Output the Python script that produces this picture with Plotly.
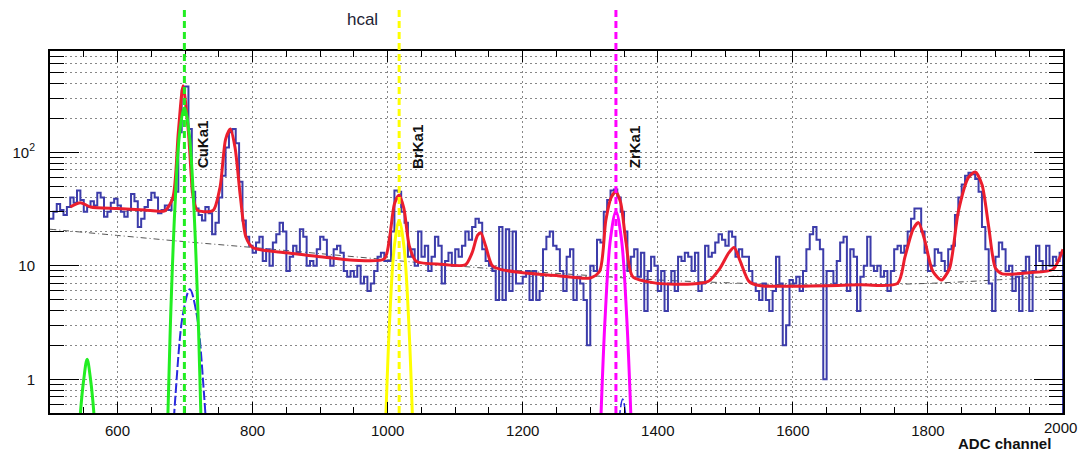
import math
import plotly.graph_objects as go

# ---------------- data ----------------
# histogram: ADC channels 500..2000 in bins of 5 channels
bin_start = 500
bin_width = 5
counts = [
    26, 30, 35, 31, 28, 33, 40, 36, 46, 38, 30, 33, 37, 34, 44, 40, 27, 30, 36, 39,            # 500-595
    34, 30, 27, 31, 43, 37, 22, 26, 33, 38, 44, 40, 29, 31, 34, 31, 38, 45, 150, 350,          # 600-695
    380, 160, 45, 32, 28, 25, 33, 29, 19, 24, 40, 62, 110, 150, 160, 120, 55, 25, 18, 15,      # 700-795
    13, 16, 18, 11, 14, 10, 16, 19, 24, 20, 9, 12, 15, 13, 21, 18, 10, 11, 10, 14,             # 800-895
    18, 17, 12, 10, 14, 15, 13, 9, 8, 9, 8, 10, 7, 8, 6, 7, 9, 12, 13, 11,                     # 900-995
    11, 20, 46, 45, 30, 24, 12, 14, 10, 20, 12, 15, 9, 12, 18, 15, 7, 11, 13, 10,              # 1000-1095
    14, 12, 15, 20, 17, 22, 26, 24, 14, 11, 10, 9, 5, 22, 5, 21, 6, 20, 7, 7,                  # 1100-1195
    8, 9, 5, 9, 5, 6, 14, 18, 20, 15, 14, 9, 6, 12, 14, 5, 8, 7, 5, 2,                         # 1200-1295
    10, 9, 17, 16, 30, 38, 46, 47, 40, 30, 20, 9, 12, 14, 8, 13, 4, 9, 12, 10,                 # 1300-1395
    6, 9, 4, 7, 9, 6, 12, 11, 13, 12, 9, 13, 6, 7, 15, 12, 13, 16, 19, 17,                     # 1400-1495
    15, 20, 18, 12, 14, 12, 12, 9, 7, 6, 5, 7, 5, 4, 6, 12, 7, 2, 3, 7.5,                      # 1500-1595
    7, 8, 6, 9, 14, 19, 22, 17, 14, 1.0, 9, 9, 7, 11, 16, 18, 6, 14, 12, 4,                    # 1600-1695
    8, 10, 18, 10, 9, 10, 8, 9, 6, 9, 14, 15, 13, 15, 20, 26, 32, 32, 20, 13,                  # 1700-1795
    9, 10, 14, 13, 11, 9, 14, 15, 28, 40, 52, 62, 66, 64, 58, 45, 22, 14, 7, 4,                # 1800-1895
    12, 16, 14, 9, 10, 6, 8, 4, 9, 12, 4, 9, 15, 11, 9, 15, 10, 12, 11, 13,                    # 1900-1995
]
hist_floor = 0.1

# total fit function
fit_ch = [530, 545, 560, 600, 640, 670, 682, 690, 697, 705, 712, 718, 728, 742,
          752, 760, 767, 774, 782, 790, 800, 850, 900, 950, 995, 1003, 1010, 1017,
          1024, 1032, 1042, 1080, 1115, 1125, 1133, 1138, 1145, 1155, 1170, 1200,
          1250, 1300, 1314, 1323, 1331, 1338, 1345, 1353, 1363, 1400, 1450, 1475,
          1492, 1505, 1513, 1522, 1535, 1550, 1600, 1700, 1755, 1766, 1778, 1786,
          1795, 1807, 1820, 1832, 1845, 1860, 1870, 1880, 1890, 1900, 1910, 1950,
          1985, 2000]
fit_val = [33, 36, 33, 32, 31, 30.5, 40, 150, 385, 150, 40, 31, 30, 31,
           50, 130, 160, 110, 40, 18, 14.5, 13, 12, 11.2, 11.5, 18, 35, 42,
           32, 15, 11, 10.3, 10.2, 13, 18.5, 19.5, 15, 10, 9.2, 8.7,
           8.2, 7.8, 9, 25, 40, 45, 36, 16, 8, 7, 6.9, 7.3,
           9.5, 13, 14.5, 11, 7.3, 6.7, 6.6, 6.8, 7, 12, 21, 24,
           17, 9, 7.5, 9.5, 30, 60, 67, 52, 22, 9.5, 8.5, 8.7,
           9.3, 14]

# background component
bkg_ch = [500, 600, 700, 800, 900, 1000, 1100, 1200, 1300, 1400, 1500, 1600,
          1700, 1800, 1900, 2000]
bkg_val = [21, 18.5, 16.3, 14.5, 12.8, 11.3, 10, 9, 8.2, 7.5, 7.1, 6.8,
           6.8, 7.0, 7.5, 8.2]

# peak components (channel, value)
cu_ch = [671, 678, 685, 692, 699, 706, 713, 720, 727]
cu_val = [0.08, 2.7, 33, 148, 245, 148, 33, 2.7, 0.08]
cu_low_ch = [540, 545, 550, 555, 560, 565, 570]
cu_low_val = [0.16, 0.5, 1.0, 1.5, 1.0, 0.5, 0.16]
cu_tail_ch = [678, 686, 697, 707, 717, 728, 736]
cu_tail_val = [0.12, 0.75, 3.8, 6.2, 3.8, 0.75, 0.12]
br_ch = [996, 1003, 1010, 1017, 1024, 1031, 1038]
br_val = [0.27, 3.4, 15, 25, 15, 3.4, 0.27]
zr_ch = [1314, 1322, 1330, 1338, 1346, 1354, 1362]
zr_val = [0.23, 3.5, 17.5, 30, 17.5, 3.5, 0.23]
zr_tail_ch = [1336, 1342, 1348, 1354, 1360]
zr_tail_val = [0.09, 0.4, 0.67, 0.4, 0.09]

# line energies
line_names = ["CuKa1", "BrKa1", "ZrKa1"]
line_ch = [699, 1017, 1338]
line_colors = ["#22ee22", "#ffff00", "#ff00ff"]
label_ch = [726, 1044, 1365]
label_val = [69, 69, 69]

x_tickvals = [600, 800, 1000, 1200, 1400, 1600, 1800]
x_last_tick = 2000
y_tickvals = [1, 10, 100]
y_ticktext = ["1", "10", "10<sup>2</sup>"]
y_minor = [0.5, 0.6, 0.7, 0.8, 0.9, 2, 3, 4, 5, 6, 7, 8, 9,
           20, 30, 40, 50, 60, 70, 80, 90, 200, 300, 400, 500, 600, 700]

# ---------------- figure ----------------
FONT = "Liberation Sans, Arial, Helvetica, sans-serif"

hx = [bin_start + i * bin_width for i in range(len(counts) + 1)]
hy = counts + [counts[-1]]
hx = hx + [hx[-1]]
hy = hy + [hist_floor]

fig = go.Figure()

fig.add_trace(go.Scatter(x=bkg_ch, y=bkg_val, mode="lines",
                         line=dict(color="#555555", width=1, dash="6px,3px,1px,3px", shape="spline")))
fig.add_trace(go.Scatter(x=hx, y=hy, mode="lines",
                         line=dict(color="rgb(60,60,170)", width=2, shape="hv")))
fig.add_trace(go.Scatter(x=fit_ch, y=fit_val, mode="lines",
                         line=dict(color="rgb(235,30,45)", width=3, shape="spline", smoothing=0.7)))

for cx, cy, col, dash, w in [
    (cu_tail_ch, cu_tail_val, "#2a2ae0", "10px,3px", 2),
    (zr_tail_ch, zr_tail_val, "#2a2ae0", "10px,3px", 1.5),
    (cu_ch, cu_val, line_colors[0], "solid", 3),
    (cu_low_ch, cu_low_val, line_colors[0], "solid", 3),
    (br_ch, br_val, line_colors[1], "solid", 3),
    (zr_ch, zr_val, line_colors[2], "solid", 3),
]:
    fig.add_trace(go.Scatter(x=cx, y=cy, mode="lines",
                             line=dict(color=col, width=w, dash=dash, shape="spline", smoothing=1)))

# vertical markers at the line energies
for ch, col in zip(line_ch, line_colors):
    fig.add_shape(type="line", xref="x", yref="paper", x0=ch, x1=ch, y0=0, y1=1.113,
                  line=dict(color=col, width=3, dash="7px,4px"), layer="above")

for name, ch, v in zip(line_names, label_ch, label_val):
    fig.add_annotation(x=ch, y=math.log10(v), text="<b>" + name + "</b>", textangle=-90,
                       showarrow=False, xanchor="center", yanchor="bottom",
                       font=dict(family=FONT, size=15, color="#111111"))

# last x tick label, kept inside the page edge
fig.add_annotation(x=x_last_tick, yref="paper", y=0, yshift=-4, xshift=-3,
                   text=str(x_last_tick), showarrow=False, xanchor="center", yanchor="top",
                   font=dict(family=FONT, size=15, color="#111111"))

fig.add_annotation(xref="paper", yref="paper", x=0.99, y=-0.083, text="<b>ADC channel</b>",
                   showarrow=False, xanchor="right", yanchor="middle",
                   font=dict(family=FONT, size=15, color="#111111"))

fig.update_layout(
    width=1079, height=453,
    margin=dict(l=48, r=16, t=51, b=40),
    paper_bgcolor="white", plot_bgcolor="white",
    showlegend=False,
    title=dict(text="hcal", xref="container", yref="container", x=0.336, y=0.957,
               xanchor="center", yanchor="middle",
               font=dict(family=FONT, size=17, color="#222233")),
    font=dict(family=FONT, size=15, color="#111111"),
)

fig.update_xaxes(
    range=[500, 2000], tickvals=x_tickvals, ticks="inside",
    ticklen=11, tickwidth=1,
    tickcolor="black", showline=True, linecolor="black", linewidth=2, mirror="allticks",
    showgrid=True, gridcolor="#888888", gridwidth=1, griddash="2px,3px",
    zeroline=False, ticklabelstandoff=3,
    minor=dict(dtick=50, ticks="inside", ticklen=6, tickcolor="black", showgrid=False),
)
fig.update_yaxes(
    type="log", range=[-0.2967, 2.892], tickvals=y_tickvals, ticktext=y_ticktext,
    ticks="inside", ticklen=29, tickwidth=1, tickcolor="black",
    showline=True, linecolor="black", linewidth=2, mirror="allticks",
    showgrid=True, gridcolor="#888888", gridwidth=1, griddash="2px,3px",
    zeroline=False, ticklabelstandoff=10,
    minor=dict(tickvals=y_minor, ticks="inside", ticklen=14, tickcolor="black",
               showgrid=True, gridcolor="#888888", gridwidth=1, griddash="2px,3px"),
)

fig.write_html("out.html")
